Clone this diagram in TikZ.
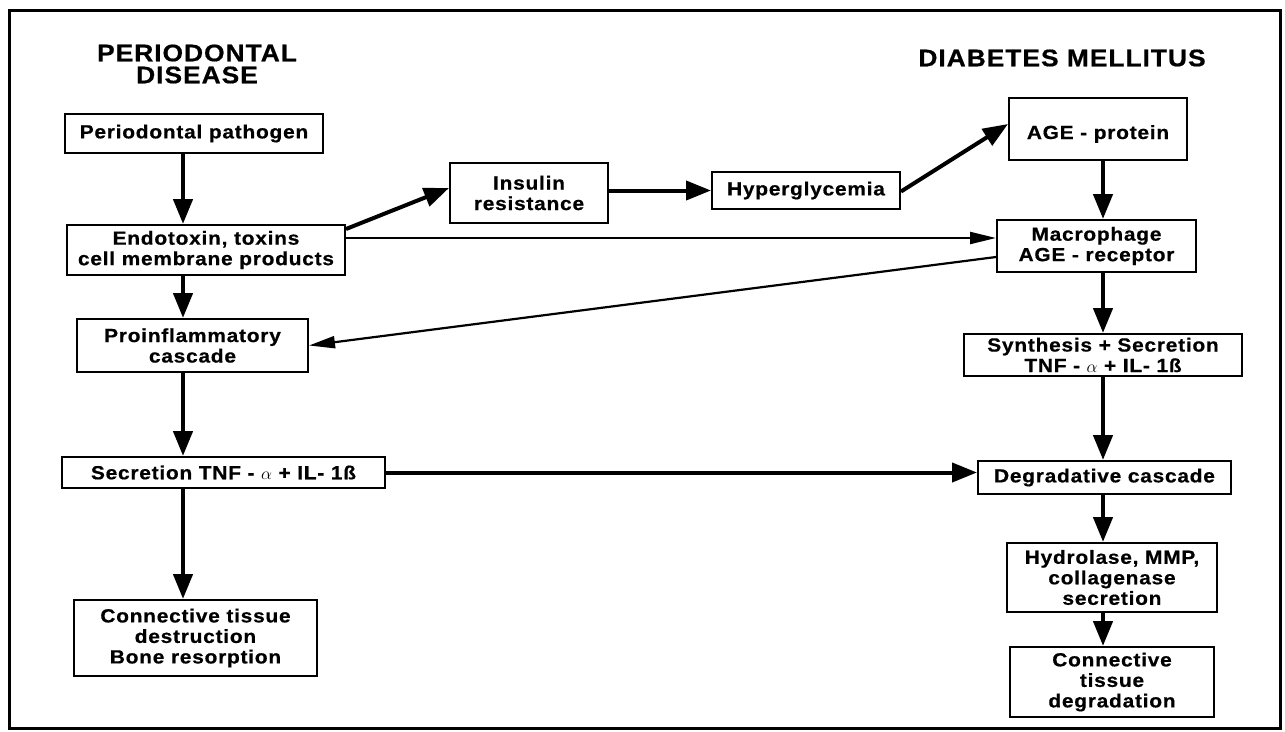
\documentclass[tikz,border=0pt]{standalone}
\usepackage{fontspec}
\setmainfont{Liberation Sans}[FakeStretch=1.1,LetterSpace=4,BoldFeatures={FakeBold=0.6}]
\usetikzlibrary{arrows.meta}
\tikzset{
  box/.style={draw,line width=2pt,align=center,inner sep=0pt,font=\bfseries\fontsize{19}{20.5}\selectfont},
  title/.style={align=center,inner sep=0pt,font=\bfseries\fontsize{24}{23}\selectfont},
  fat/.style={line width=4.5pt,-{Triangle[length=25pt,width=19pt]}},
  slim/.style={line width=2.2pt,-{Triangle[length=26pt,width=12pt]}},
}
\begin{document}
\begin{tikzpicture}[x=1pt,y=-1pt]
\useasboundingbox (0,0) rectangle (1285,731);
\fill[white] (0,0) rectangle (1285,731);
\draw[line width=3pt] (9,10) rectangle (1280,728);
\node[title] (tl) at (197,64) {PERIODONTAL\\[-1pt]DISEASE};
\node[title] (tr) at (1062,58) {DIABETES MELLITUS};
\node[box,minimum width=258pt,minimum height=39pt] (path) at (194,133.5) {Periodontal pathogen};
\node[box,minimum width=278pt,minimum height=50pt] (endo) at (206,250) {Endotoxin, toxins\\cell membrane products};
\node[box,minimum width=158pt,minimum height=60pt] (ins) at (529,193) {Insulin\\resistance};
\node[box,minimum width=188pt,minimum height=37pt] (hyp) at (806,190.5) {Hyperglycemia};
\node[box,minimum width=178pt,minimum height=62pt,text height=30pt,text depth=10pt] (age) at (1098,129) {AGE - protein};
\node[box,minimum width=199pt,minimum height=52pt] (mac) at (1096.5,246) {Macrophage\\AGE - receptor};
\node[box,minimum width=231pt,minimum height=53pt] (pro) at (192.5,345.5) {Proinflammatory\\cascade};
\node[box,minimum width=278pt,minimum height=42pt] (syn) at (1103,355) {Synthesis + Secretion\\TNF - $\alpha$ + IL- 1ß};
\node[box,minimum width=323pt,minimum height=31pt] (sec) at (223.5,472.5) {Secretion TNF - $\alpha$ + IL- 1ß};
\node[box,minimum width=253pt,minimum height=33pt] (deg) at (1104.5,477.5) {Degradative cascade};
\node[box,minimum width=210pt,minimum height=69pt] (hyd) at (1112,577.5) {Hydrolase, MMP,\\collagenase\\secretion};
\node[box,minimum width=243pt,minimum height=76pt] (conl) at (195.5,638) {Connective tissue\\destruction\\Bone resorption};
\node[box,minimum width=204pt,minimum height=70pt] (conr) at (1112,682) {Connective\\tissue\\degradation};
\coordinate (lx) at (183,0);
\coordinate (rx) at (1103,0);
\draw[fat] (path.south -| lx) -- (endo.north -| lx);
\draw[fat] (endo.south -| lx) -- (pro.north -| lx);
\draw[fat] (pro.south -| lx) -- (sec.north -| lx);
\draw[fat] (sec.south -| lx) -- (conl.north -| lx);
\draw[fat] (age.south -| rx) -- (mac.north -| rx);
\draw[fat] (mac.south -| rx) -- (syn.north -| rx);
\draw[fat] (syn.south -| rx) -- (deg.north -| rx);
\draw[fat] (deg.south -| rx) -- (hyd.north -| rx);
\draw[fat] (hyd.south -| rx) -- (conr.north -| rx);
\draw[fat,line width=4pt] ([yshift=-5pt]endo.north east) -- ([yshift=5pt]ins.west);
\draw[fat,line width=4pt] (ins.east |- hyp) -- (hyp.west);
\draw[fat,line width=4pt] ([yshift=-1pt]hyp.east) -- ([yshift=5pt]age.west);
\draw[slim] ([yshift=12pt]endo.east) -- ([yshift=8pt]mac.west);
\draw[slim] ([yshift=-11pt]mac.west) -- (pro.east);
\draw[fat,line width=4pt] (sec.east) -- (deg.west |- sec.east);
\end{tikzpicture}
\end{document}
